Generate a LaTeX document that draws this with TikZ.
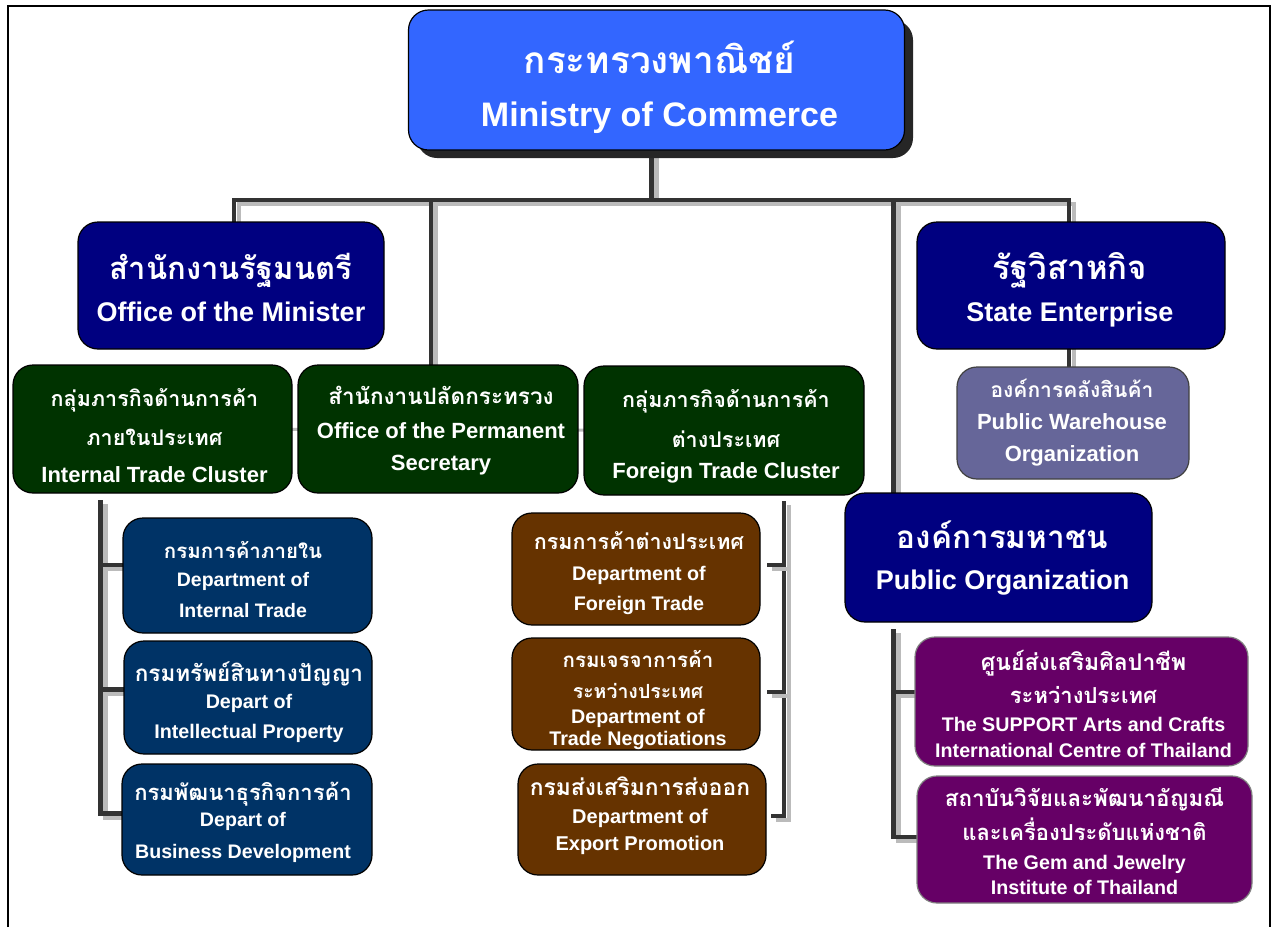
\documentclass[tikz,border=0pt]{standalone}
\usepackage{fontspec}
\setmainfont{Liberation Sans}[BoldFont={Liberation Sans Bold}]
\newfontfamily\thaifont[Script=Thai]{Loma}
\usetikzlibrary{backgrounds}
\definecolor{cblue}{HTML}{3366FF}
\definecolor{cnavy}{HTML}{000080}
\definecolor{cgreen}{HTML}{003300}
\definecolor{cdblue}{HTML}{003366}
\definecolor{cbrown}{HTML}{663300}
\definecolor{cpurple}{HTML}{660066}
\definecolor{cslate}{HTML}{666699}
\definecolor{cdark}{HTML}{333333}
\definecolor{clight}{HTML}{BBBBBB}
\newcommand{\bT}[2]{\smash{\thaifont\bfseries\fontsize{#1}{#1}\selectfont #2}}
\newcommand{\bE}[2]{\smash{\bfseries\fontsize{#1}{#1}\selectfont #2}}
% \Stk{horizontal offset}{first baseline above box centre}{lines}
\newcommand{\Stk}[3]{\raisebox{#2pt}[0pt][0pt]{\hspace{#1pt}\hspace{#1pt}\renewcommand{\arraystretch}{0}\begin{tabular}[t]{@{}c@{}}#3\end{tabular}}}
\tikzset{
  orgbox/.style={draw=black,line width=1.2pt,rounded corners=20pt,text=white,inner sep=0pt,anchor=center},
  conn/.style={draw=cdark,line width=4.3pt,preaction={draw=clight,line width=4.5pt,transform canvas={xshift=5pt,yshift=-4.2pt}}},
  thinconn/.style={draw=cdark,line width=4pt,preaction={draw=clight,line width=3.5pt,transform canvas={xshift=5pt,yshift=-4.2pt}}},
  stub/.style={draw=clight,line width=3pt},
  frameline/.style={draw=black,line width=1.6pt}
}
\begin{document}
\begin{tikzpicture}[x=1pt,y=-1pt]
\useasboundingbox (0,0) rectangle (1271,927);
\draw[frameline] (8,927) -- (8,6) -- (1270,6) -- (1270,927);
% shadow of the top box
\fill[black!85,rounded corners=20pt] (417,20) rectangle (913,158);
% boxes
\node[orgbox,fill=cblue,minimum width=496pt,minimum height=140pt] (ministry) at (656.5,80)
  {\Stk{3}{7}{\bT{37}{กระทรวงพาณิชย์}\\[53pt]\bE{34}{Ministry of Commerce}}};
\node[orgbox,fill=cnavy,minimum width=306pt,minimum height=127pt] (minister) at (231,285.5)
  {\Stk{0}{6.5}{\bT{31}{สำนักงานรัฐมนตรี}\\[42pt]\bE{27}{Office of the Minister}}};
\node[orgbox,fill=cnavy,minimum width=308pt,minimum height=127pt] (enterprise) at (1071,285.5)
  {\Stk{-1}{6.5}{\bT{33}{รัฐวิสาหกิจ}\\[42pt]\bE{27}{State Enterprise}}};
\node[orgbox,fill=cslate,draw=black!75,minimum width=232pt,minimum height=112pt] (warehouse) at (1073,423)
  {\Stk{-1}{26}{\bT{21}{องค์การคลังสินค้า}\\[32pt]\bE{22}{Public Warehouse}\\[32pt]\bE{22}{Organization}}};
\node[orgbox,fill=cnavy,minimum width=307pt,minimum height=129pt] (public) at (998.5,557.5)
  {\Stk{4}{9.5}{\bT{31.5}{องค์การมหาชน}\\[41pt]\bE{27}{Public Organization}}};
\node[orgbox,fill=cgreen,minimum width=279pt,minimum height=128pt] (internal) at (152.5,429)
  {\Stk{2}{23}{\bT{21.5}{กลุ่มภารกิจด้านการค้า}\\[39pt]\bT{21.5}{ภายในประเทศ}\\[37pt]\bE{22}{Internal Trade Cluster}}};
\node[orgbox,fill=cgreen,minimum width=280pt,minimum height=128pt] (perm) at (438,429)
  {\Stk{3}{25}{\bT{22.5}{สำนักงานปลัดกระทรวง}\\[34pt]\bE{22}{Office of the Permanent}\\[32pt]\bE{22}{Secretary}}};
\node[orgbox,fill=cgreen,minimum width=280pt,minimum height=129pt] (foreign) at (724,430.5)
  {\Stk{2}{23.5}{\bT{21.5}{กลุ่มภารกิจด้านการค้า}\\[40pt]\bT{21.5}{ต่างประเทศ}\\[31pt]\bE{22}{Foreign Trade Cluster}}};
\node[orgbox,fill=cdblue,minimum width=249pt,minimum height=115pt] (dinternal) at (247.5,575.5)
  {\Stk{-4.5}{17.5}{\bT{20.5}{กรมการค้าภายใน}\\[28pt]\bE{19.5}{Department of}\\[31pt]\bE{19.5}{Internal Trade}}};
\node[orgbox,fill=cdblue,minimum width=248pt,minimum height=113pt] (dip) at (248,697.5)
  {\Stk{1}{16.5}{\bT{22.5}{กรมทรัพย์สินทางปัญญา}\\[27pt]\bE{19.7}{Depart of}\\[30pt]\bE{19.7}{Intellectual Property}}};
\node[orgbox,fill=cdblue,minimum width=250pt,minimum height=111pt] (dbus) at (247,819.5)
  {\Stk{-4}{19.5}{\bT{22}{กรมพัฒนาธุรกิจการค้า}\\[26pt]\bE{19.6}{Depart of}\\[32pt]\bE{19.6}{Business Development}}};
\node[orgbox,fill=cbrown,minimum width=248pt,minimum height=112pt] (dforeign) at (636,569)
  {\Stk{3}{20}{\bT{21.5}{กรมการค้าต่างประเทศ}\\[31pt]\bE{19.7}{Department of}\\[30pt]\bE{19.7}{Foreign Trade}}};
\node[orgbox,fill=cbrown,minimum width=248pt,minimum height=112pt] (dnego) at (636,694)
  {\Stk{2}{27}{\bT{20.5}{กรมเจรจาการค้า}\\[31pt]\bT{19.5}{ระหว่างประเทศ}\\[25pt]\bE{19.7}{Department of}\\[22pt]\bE{19.7}{Trade Negotiations}}};
\node[orgbox,fill=cbrown,minimum width=248pt,minimum height=111pt] (dexport) at (642,819.5)
  {\Stk{-2}{24.5}{\bT{22.8}{กรมส่งเสริมการส่งออก}\\[28pt]\bE{20}{Department of}\\[27pt]\bE{20}{Export Promotion}}};
\node[orgbox,fill=cpurple,draw=black!50,minimum width=333pt,minimum height=129pt] (support) at (1081.5,701.5)
  {\Stk{2}{31.5}{\bT{23}{ศูนย์ส่งเสริมศิลปาชีพ}\\[33pt]\bT{22}{ระหว่างประเทศ}\\[28pt]\bE{19.7}{The SUPPORT Arts and Crafts}\\[26pt]\bE{19.7}{International Centre of Thailand}}};
\node[orgbox,fill=cpurple,draw=black!50,minimum width=335pt,minimum height=127pt] (gem) at (1084.5,839.5)
  {\Stk{0}{33.5}{\bT{22.4}{สถาบันวิจัยและพัฒนาอัญมณี}\\[34pt]\bT{22}{และเครื่องประดับแห่งชาติ}\\[29pt]\bE{19.7}{The Gem and Jewelry}\\[25pt]\bE{19.7}{Institute of Thailand}}};
% junction points
\coordinate (hub) at (651.5,199.7);
\coordinate (busl) at (234,199.7);
\coordinate (busr) at (1069,199.7);
\coordinate (busperm) at (430.7,199.7);
\coordinate (bustrunk) at (893.5,199.7);
\coordinate (pubj) at (893.5,629);
\coordinate (gemj) at (893.5,837);
\coordinate (supj) at (893.5,692);
\coordinate (lt) at (100.5,500);
\coordinate (ld1) at (100.5,565);
\coordinate (ld2) at (100.5,689.5);
\coordinate (ld3) at (100.5,813.5);
\coordinate (rt) at (784,501);
\coordinate (rd1) at (784,565);
\coordinate (rd2) at (784,692);
\coordinate (rd3) at (784,816);
\coordinate (re1) at (767,565);
\coordinate (re2) at (767,692);
\coordinate (re3) at (771,816);
\begin{scope}[on background layer]
\draw[stub] (internal.center) -- (foreign.center);
\draw[conn] (ministry.center -| hub) -- (hub);
\draw[conn] (busl |- minister.center) -- (busl) -- (busr) -- (busr |- enterprise.center);
\draw[conn] (busperm) -- (busperm |- perm.center);
\draw[conn] (bustrunk) -- (bustrunk |- public.center);
\draw[conn] (pubj) -- (gemj) -- (gemj -| gem.center);
\draw[conn] (supj) -- (supj -| support.center);
\draw[conn] (busr |- enterprise.center) -- (busr |- warehouse.center);
\draw[conn] (lt) -- (ld3) -- (ld3 -| dbus.center);
\draw[conn] (ld1) -- (ld1 -| dinternal.center);
\draw[conn] (ld2) -- (ld2 -| dip.center);
\draw[thinconn] (rt) -- (rd3) -- (re3);
\draw[thinconn] (rd1) -- (re1);
\draw[thinconn] (rd2) -- (re2);
\end{scope}
\end{tikzpicture}
\end{document}
